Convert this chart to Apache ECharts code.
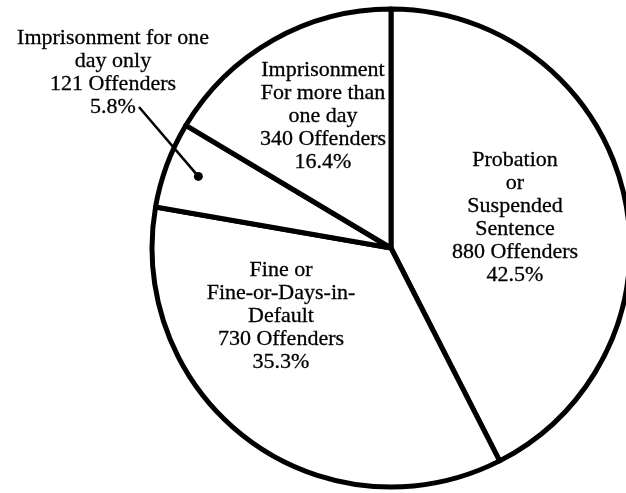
<!DOCTYPE html>
<html><head><meta charset="utf-8">
<script src="https://cdn.jsdelivr.net/npm/echarts@6/dist/echarts.min.js"></script>
<style>html,body{margin:0;padding:0;background:#fff}#c{width:626px;height:493px}</style>
</head><body><div id="c"></div>
<script>
// ---- data ----
const categories = [
  'Probation\nor\nSuspended\nSentence',
  'Fine or\nFine-or-Days-in-\nDefault',
  'Imprisonment for one\nday only',
  'Imprisonment\nFor more than\none day'
];
const offenders = [880, 730, 121, 340];
const percents = ['42.5%', '35.3%', '5.8%', '16.4%'];

// ---- layout (not data) ----
const CX = 391, CY = 248, R = 239;
const labelAnchors = [[515, 218], [281, 316], [113, 73], [323, 116]];
const leaderStart = [139, 107];
const leaderDotFrac = 0.86;

const chart = echarts.init(document.getElementById('c'), null, {renderer: 'canvas'});

const total = offenders.reduce((a, b) => a + b, 0);
let before = 0;
for (let i = 0; i < 2; i++) before += offenders[i];
const midFrac = (before + offenders[2] / 2) / total;
const ang = midFrac * 2 * Math.PI;
const dot = [CX + R * leaderDotFrac * Math.sin(ang), CY - R * leaderDotFrac * Math.cos(ang)];

chart.setOption({
  animation: false,
  backgroundColor: '#fff',
  series: [{
    type: 'pie',
    center: [CX, CY],
    radius: [0, R],
    startAngle: 90,
    clockwise: true,
    avoidLabelOverlap: false,
    silent: true,
    itemStyle: {color: '#fff', borderColor: '#000', borderWidth: 5},
    label: {
      show: true,
      position: 'inside',
      color: '#000',
      fontFamily: 'Liberation Serif',
      fontSize: 22,
      lineHeight: 23,
      align: 'center',
      textBorderColor: '#000',
      textBorderWidth: 0.3,
      formatter: p => p.name + '\n' + p.value + ' Offenders\n' + percents[p.dataIndex]
    },
    labelLine: {show: false},
    labelLayout: p => {
      const a = labelAnchors[p.dataIndex];
      return {x: a[0], y: a[1], align: 'center', verticalAlign: 'middle', hideOverlap: false};
    },
    emphasis: {disabled: true},
    data: categories.map((c, i) => ({name: c, value: offenders[i]}))
  }],
  graphic: [
    {type: 'line', z: 100, shape: {x1: leaderStart[0], y1: leaderStart[1], x2: dot[0], y2: dot[1]},
     style: {stroke: '#000', lineWidth: 2.5}},
    {type: 'circle', z: 100, shape: {cx: dot[0], cy: dot[1], r: 4.5}, style: {fill: '#000'}}
  ]
});
</script></body></html>
